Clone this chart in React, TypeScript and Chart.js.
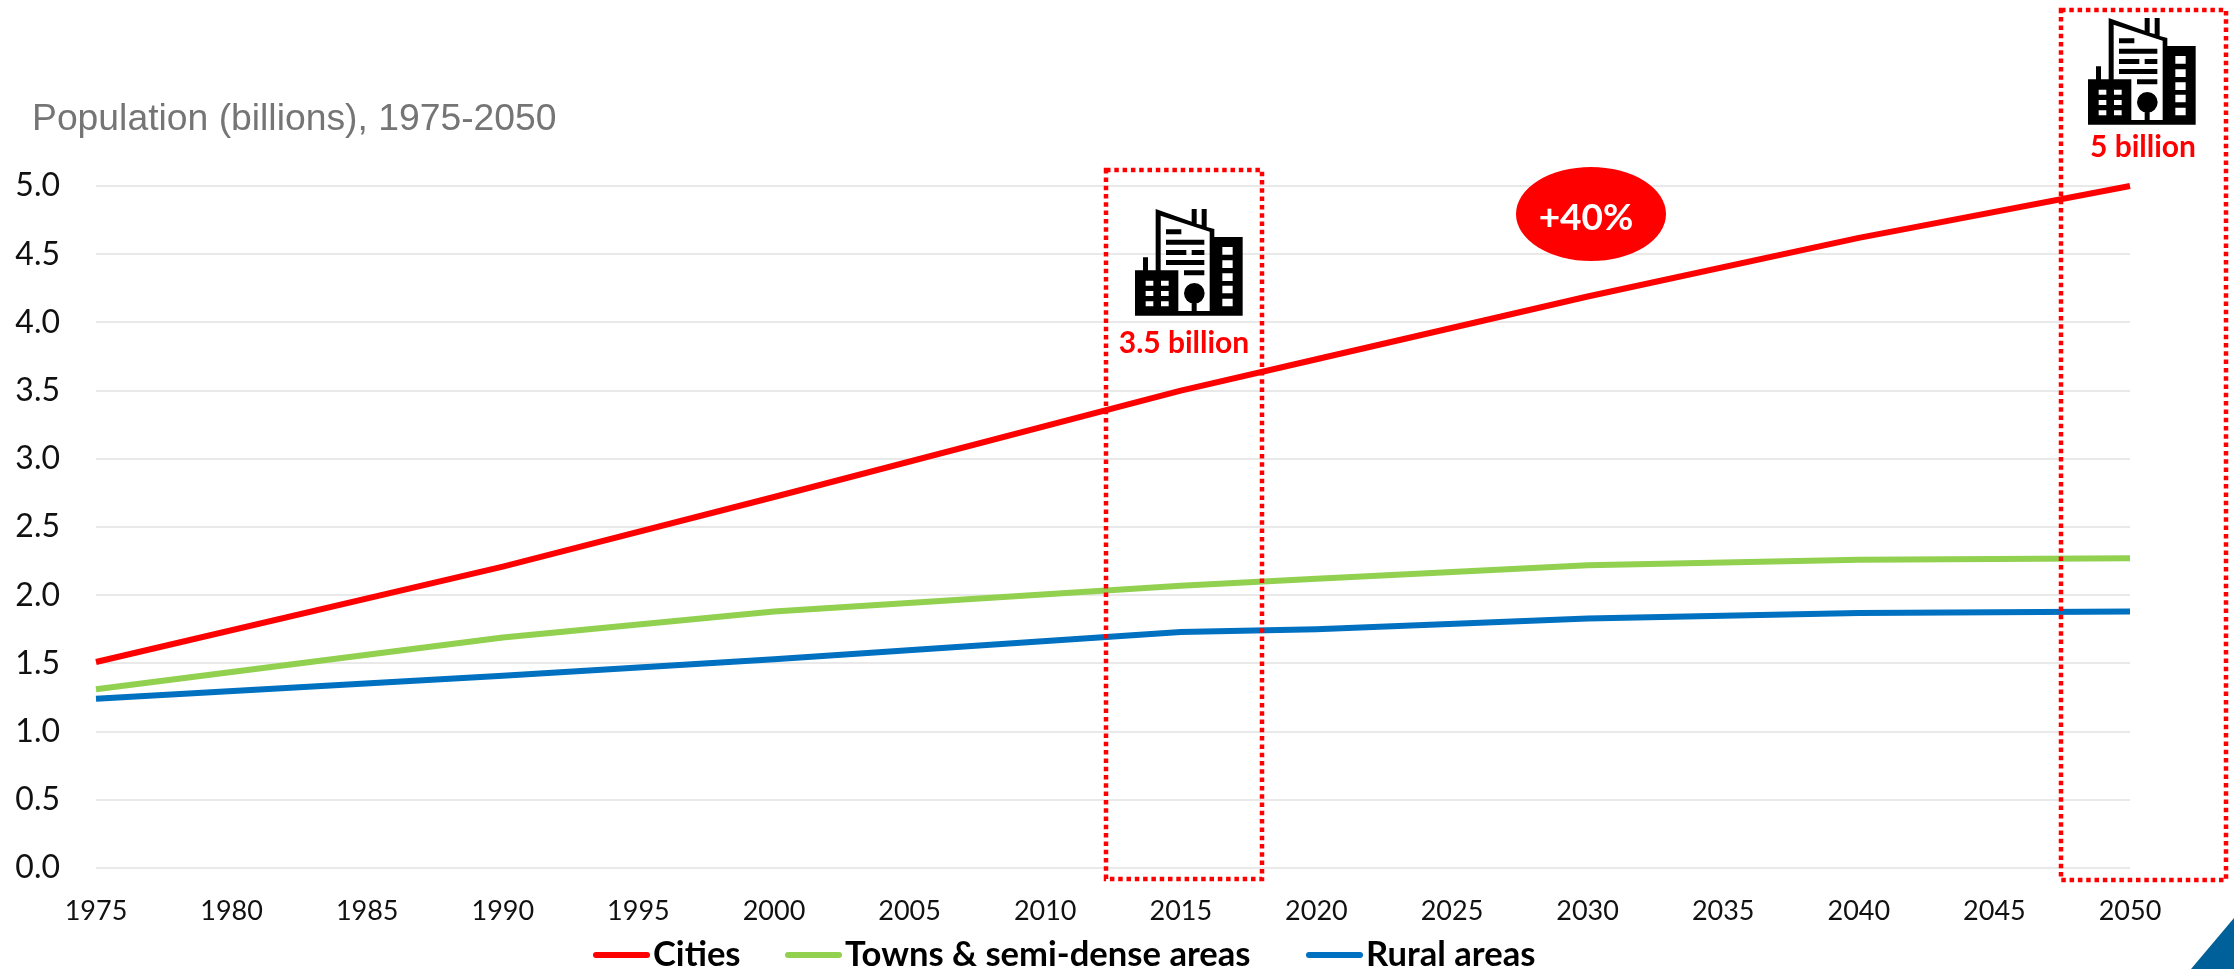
import React, { useEffect, useRef } from "react";
import { Chart, registerables } from "chart.js";

Chart.register(...registerables);

const years = [1975, 1990, 2000, 2015, 2020, 2030, 2040, 2050];
const cities = [1.51, 2.21, 2.72, 3.5, 3.73, 4.19, 4.62, 5.0];
const towns = [1.31, 1.69, 1.88, 2.07, 2.12, 2.22, 2.26, 2.27];
const rural = [1.24, 1.41, 1.53, 1.73, 1.75, 1.83, 1.87, 1.88];
const seriesNames = ["Cities", "Towns & semi-dense areas", "Rural areas"];
const seriesColors = ["#FF0000", "#92D050", "#0070C0"];
const chartTitle = "Population (billions), 1975-2050";
const callouts = ["3.5 billion", "5 billion"];
const growthLabel = "+40%";

const toPoints = (values: number[]) => values.map((y, i) => ({ x: years[i], y }));

// Office-block pictogram, outlined on a 323 x 320 grid.
function buildingPath(): Path2D {
  const p = new Path2D();
  const rect = (x0: number, y0: number, x1: number, y1: number) => p.rect(x0, y0, x1 - x0, y1 - y0);
  // low block and its chimney
  rect(0, 184, 130, 320);
  rect(24, 145, 39, 184);
  // tower: wall, sloped roof, right wall and floor
  p.moveTo(62, 0);
  p.lineTo(170, 38);
  p.lineTo(170, 0);
  p.lineTo(185, 0);
  p.lineTo(185, 44);
  p.lineTo(200, 48);
  p.lineTo(200, 0);
  p.lineTo(215, 0);
  p.lineTo(215, 54);
  p.lineTo(238, 60);
  p.lineTo(238, 320);
  p.lineTo(130, 320);
  p.lineTo(130, 306);
  p.lineTo(224, 306);
  p.lineTo(224, 68);
  p.lineTo(77, 20);
  p.lineTo(77, 184);
  p.lineTo(62, 184);
  p.closePath();
  // high block on the right
  rect(238, 84, 323, 320);
  return p;
}

function buildingDetails(): { black: Path2D; white: Path2D } {
  const black = new Path2D();
  const white = new Path2D();
  const bars = [
    [93, 61, 139, 76],
    [93, 92, 208, 107],
    [93, 123, 154, 138],
    [170, 123, 208, 138],
    [93, 153, 208, 168],
    [147, 184, 208, 199],
  ];
  bars.forEach(([a, b, c, d]) => black.rect(a, b, c - a, d - b));
  black.arc(178, 253, 31, 0, Math.PI * 2);
  black.rect(170, 253, 15, 55);
  [215, 246, 277].forEach((y) => {
    white.rect(32, y, 23, 15);
    white.rect(78, y, 23, 15);
  });
  [114, 154, 193, 230, 269].forEach((y) => white.rect(262, y, 31, 23));
  return { black, white };
}

function drawBuilding(ctx: CanvasRenderingContext2D, x: number, y: number) {
  ctx.save();
  ctx.translate(x, y);
  ctx.scale(1 / 3, 1 / 3);
  const { black, white } = buildingDetails();
  ctx.fillStyle = "#000000";
  ctx.fill(buildingPath());
  ctx.fill(black);
  ctx.fillStyle = "#FFFFFF";
  ctx.fill(white);
  ctx.restore();
}

function dottedBox(ctx: CanvasRenderingContext2D, x0: number, y0: number, x1: number, y1: number) {
  ctx.save();
  ctx.strokeStyle = "#FF0000";
  ctx.lineWidth = 4.5;
  ctx.setLineDash([4.5, 3.8]);
  ctx.strokeRect(x0, y0, x1 - x0, y1 - y0);
  ctx.restore();
}

const annotations = {
  id: "annotations",
  afterDraw(chart: Chart) {
    const ctx = chart.ctx;
    ctx.save();

    // heading
    ctx.fillStyle = "#757575";
    ctx.font = '37.3px "Liberation Sans"';
    ctx.textAlign = "left";
    ctx.textBaseline = "alphabetic";
    ctx.fillText(chartTitle, 32, 130);

    // highlighted years
    dottedBox(ctx, 1106, 170, 1262, 879);
    dottedBox(ctx, 2061, 10, 2226, 880);
    drawBuilding(ctx, 1135, 209);
    drawBuilding(ctx, 2088, 18);

    ctx.fillStyle = "#FF0000";
    ctx.textAlign = "center";
    ctx.font = 'bold 30px "Lato"';
    ctx.fillText(callouts[0], 1184, 353);
    ctx.fillText(callouts[1], 2143, 157);

    // growth badge
    ctx.beginPath();
    ctx.ellipse(1591, 214, 75, 47, 0, 0, Math.PI * 2);
    ctx.fill();
    ctx.fillStyle = "#FFFFFF";
    ctx.font = 'bold 37px "Lato"';
    ctx.fillText(growthLabel, 1586, 230);

    // legend, laid out from the datasets
    const legendX = [593, 785, 1306];
    const legendY = 955;
    ctx.textAlign = "left";
    ctx.font = 'bold 34.6px "Lato"';
    chart.data.datasets.forEach((ds, i) => {
      ctx.strokeStyle = ds.borderColor as string;
      ctx.lineWidth = 6;
      ctx.lineCap = "round";
      ctx.beginPath();
      ctx.moveTo(legendX[i] + 3, legendY);
      ctx.lineTo(legendX[i] + 54, legendY);
      ctx.stroke();
      ctx.fillStyle = "#000000";
      ctx.fillText(ds.label as string, legendX[i] + 60, 966);
    });

    // corner accent
    ctx.fillStyle = "#00619A";
    ctx.beginPath();
    ctx.moveTo(2234, 918);
    ctx.lineTo(2234, 969);
    ctx.lineTo(2191, 969);
    ctx.closePath();
    ctx.fill();
    ctx.restore();
  },
};

export default function App() {
  const ref = useRef<HTMLCanvasElement>(null);

  useEffect(() => {
    document.body.style.margin = "0";
    const chart = new Chart(ref.current!, {
      type: "line",
      data: {
        datasets: [cities, towns, rural].map((values, i) => ({
          label: seriesNames[i],
          data: toPoints(values),
          borderColor: seriesColors[i],
          backgroundColor: seriesColors[i],
          borderWidth: 6,
          pointRadius: 0,
          tension: 0,
          clip: false,
          borderCapStyle: "butt" as const,
          borderJoinStyle: "round" as const,
        })),
      },
      options: {
        responsive: false,
        animation: false,
        layout: { padding: { left: 0, top: 186, right: 104, bottom: 0 } },
        plugins: { legend: { display: false }, tooltip: { enabled: false }, title: { display: false } },
        scales: {
          x: {
            type: "linear",
            min: 1975,
            max: 2050,
            afterFit: (s: any) => {
              s.height = 101;
            },
            border: { display: false },
            grid: { display: false, drawTicks: false },
            ticks: {
              stepSize: 5,
              maxRotation: 0,
              autoSkip: false,
              padding: 27,
              color: "#111111",
              font: { family: "Lato", size: 27 },
              callback: (v: any) => String(v),
            },
          },
          y: {
            min: 0,
            max: 5,
            afterFit: (s: any) => {
              s.width = 96;
            },
            border: { display: false },
            grid: { color: "#E9E9E9", lineWidth: 2, drawTicks: false },
            ticks: {
              stepSize: 0.5,
              padding: 36,
              color: "#111111",
              font: { family: "Lato", size: 32 },
              callback: (v: any) => Number(v).toFixed(1),
            },
          },
        },
      },
      plugins: [annotations],
    });
    return () => chart.destroy();
  }, []);

  return <canvas ref={ref} width={2234} height={969} style={{ display: "block" }} />;
}
